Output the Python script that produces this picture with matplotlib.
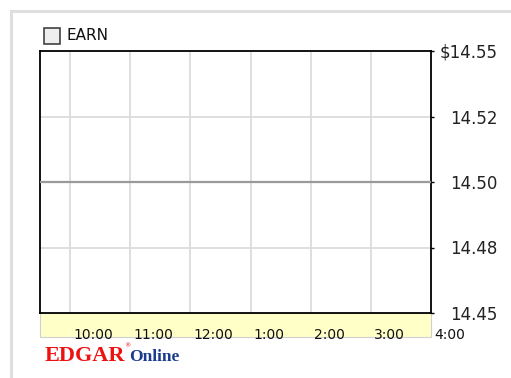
import matplotlib
matplotlib.use("Agg")
import matplotlib.pyplot as plt
import matplotlib.transforms as mtransforms
from matplotlib.patches import Rectangle
from matplotlib.lines import Line2D

# minutes since the 9:30 open, and the last trade price at those times
minutes = [0, 390]
prices = [14.50, 14.50]
symbol = "EARN"

time_ticks = [30, 90, 150, 210, 270, 330, 390]
time_labels = ["10:00", "11:00", "12:00", "1:00", "2:00", "3:00", "4:00"]
price_ticks = [14.45, 14.475, 14.50, 14.525, 14.55]
price_labels = ["14.45", "14.48", "14.50", "14.52", "$14.55"]

W, H = 511, 378
fig = plt.figure(figsize=(W / 100, H / 100), dpi=100)
fig.patch.set_facecolor("white")

# light frame around the widget
fig.add_artist(Line2D([10.5 / W, 10.5 / W], [0, 1 - 10.5 / H], color="#dedede", lw=2.2,
                      transform=fig.transFigure))
fig.add_artist(Line2D([10.5 / W, 1], [1 - 10.5 / H, 1 - 10.5 / H], color="#dedede", lw=2.2,
                      transform=fig.transFigure))

left, right, top, bottom = 40, 431, 51, 313
ax = fig.add_axes([left / W, 1 - bottom / H, (right - left) / W, (bottom - top) / H])
ax.set_xlim(0, 390)
ax.set_ylim(price_ticks[0], price_ticks[-1])

for x in time_ticks[:-1]:
    ax.axvline(x, color="#dcdcdc", lw=1.3, zorder=1)
for y in price_ticks[1:-1]:
    ax.axhline(y, color="#dcdcdc", lw=1.3, zorder=1)

ax.plot(minutes, prices, color="#9a9a9a", lw=1.6, zorder=3)

for s in ax.spines.values():
    s.set_color("black")
    s.set_linewidth(1.3)

ax.set_xticks([])
ax.yaxis.tick_right()
ax.set_yticks(price_ticks)
ax.set_yticklabels(price_labels, fontsize=12, color="#222222", ha="right")
ax.tick_params(axis="y", length=2, width=1, color="black", pad=46)

# yellow time strip under the plot
strip_h = 24 / (bottom - top)
ax.add_patch(Rectangle((0, -strip_h), 1, strip_h, transform=ax.transAxes,
                       facecolor="#ffffc8", edgecolor="#d0d0d0", lw=0.8,
                       clip_on=False, zorder=0))

blend = mtransforms.blended_transform_factory(ax.transData, ax.transAxes)
shift = mtransforms.ScaledTranslation(3 / 100, -22 / 100, fig.dpi_scale_trans)
for x, lab in zip(time_ticks, time_labels):
    ax.text(x, 0, lab, transform=blend + shift, ha="left", va="center",
            fontsize=10, color="#111111")

# legend box
fig.add_artist(Rectangle((43.5 / W, 1 - 43.5 / H), 16 / W, 16 / H, transform=fig.transFigure,
                         facecolor="#eeeeee", edgecolor="#333333", lw=1.1))
fig.text(67 / W, 1 - 35.5 / H, symbol, fontsize=11, color="#111111", va="center", ha="left")

# EDGAR Online mark
fig.text(45 / W, 1 - 361 / H, "EDGAR", fontsize=16, fontweight="bold", color="#ee1111",
         family="Liberation Serif", ha="left", va="baseline")
fig.text(124.5 / W, 1 - 347 / H, "®", fontsize=4.5, color="#ee1111", ha="left", va="baseline")
fig.text(129 / W, 1 - 361 / H, "Online", fontsize=12.5, fontweight="bold", color="#1a3c8c",
         family="Liberation Serif", ha="left", va="baseline")

fig.savefig("out.png", dpi=100)
